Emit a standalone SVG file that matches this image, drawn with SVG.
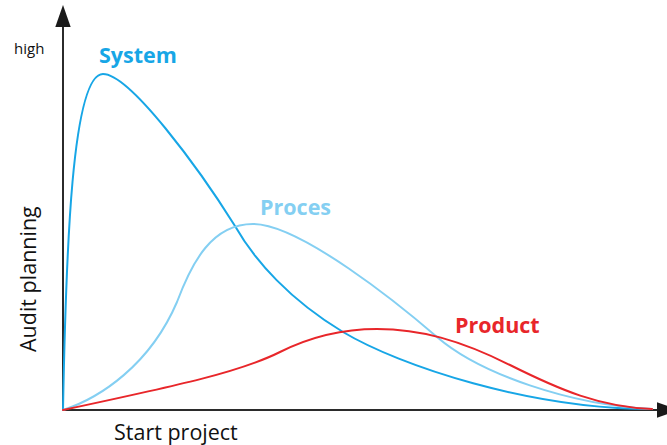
<svg xmlns="http://www.w3.org/2000/svg" width="667" height="445" viewBox="0 0 667 445">
<style>
.axis{stroke:#2b2b2b;stroke-width:2;fill:none}
.curve{fill:none;stroke-width:2;stroke-linecap:round}
.t{font-family:"Open Sans","Noto Sans","DejaVu Sans",sans-serif}
.lbl{font-weight:bold;font-size:21.5px}
</style>
<defs>
<marker id="arr" markerUnits="userSpaceOnUse" markerWidth="22" markerHeight="16" viewBox="0 0 20 14" refX="0" refY="7" orient="auto">
<polygon points="0,0 20,7 0,14" fill="#1a1a1a"/>
</marker>
</defs>
<g id="connectors">
<path class="axis" d="M63,411 V27" marker-end="url(#arr)"/>
<path class="axis" d="M62,410 H657" marker-end="url(#arr)"/>
</g>
<g id="system">
<path class="curve" stroke="#17a6e6" d="M63,410 C66,250 72,74 103,74 C130,74 200,170 235,226 C255,261 290,300 343,332 C400,366 530,409 652,409"/>
<text class="t lbl" x="99" y="63" fill="#17a6e6">System</text>
</g>
<g id="proces">
<path class="curve" stroke="#84cff2" d="M63,410 C100,398 150,365 177,302 C192,262 212,224 253,224 C300,224 400,305 437,337 C480,374 570,405 652,409"/>
<text class="t lbl" x="260" y="215" fill="#84cff2">Proces</text>
</g>
<g id="product">
<path class="curve" stroke="#e8262a" d="M63,410 C180,385 240,372 280,352 C310,337 340,329 377,329 C420,329 460,340 510,365 C560,390 600,407 652,409"/>
<text class="t lbl" x="455" y="333" fill="#e8262a">Product</text>
</g>
<g id="labels">
<text class="t" x="14" y="54" font-size="15" fill="#111">high</text>
<text class="t" font-size="21.5" fill="#111" transform="translate(36,352) rotate(-90)">Audit planning</text>
<text class="t" x="114" y="440" font-size="21.5" fill="#111">Start project</text>
</g>
</svg>
